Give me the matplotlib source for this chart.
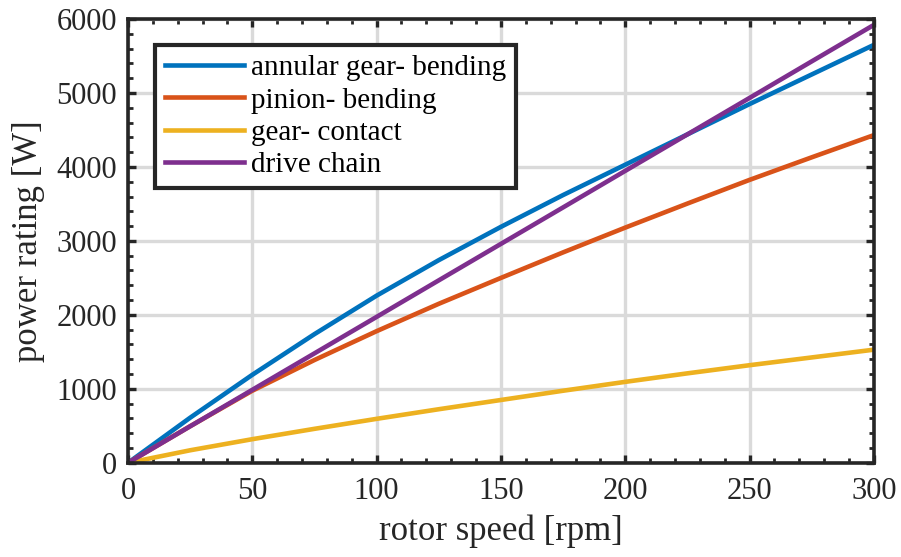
import matplotlib
matplotlib.use("Agg")
import matplotlib.pyplot as plt
from matplotlib.ticker import MultipleLocator

rpm = [0, 25, 50, 75, 100, 125, 150, 175, 200, 225, 250, 275, 300]
annular_bending = [0, 610, 1190, 1740, 2260, 2740, 3190, 3620, 4030, 4440, 4850, 5250, 5650]
pinion_bending = [0, 495, 975, 1390, 1780, 2150, 2500, 2845, 3180, 3505, 3825, 4130, 4430]
gear_contact = [0, 170, 320, 460, 595, 725, 850, 975, 1095, 1210, 1320, 1425, 1530]
drive_chain = [0, 494, 987, 1480, 1973, 2467, 2960, 3453, 3947, 4440, 4933, 5427, 5920]

labels = ["annular gear- bending", "pinion- bending", "gear- contact", "drive chain"]
colors = ["#0072BD", "#D95319", "#EDB120", "#7E2F8E"]

plt.rcParams["font.family"] = ["Liberation Serif", "DejaVu Serif"]

fig = plt.figure(figsize=(9.01, 5.57), dpi=100)
ax = fig.add_axes([0.142, 0.169, 0.828, 0.797])

for ys, lab, c in zip([annular_bending, pinion_bending, gear_contact, drive_chain], labels, colors):
    ax.plot(rpm, ys, color=c, lw=3.3, label=lab)

ax.set_xlim(0, 300)
ax.set_ylim(0, 6000)
ax.xaxis.set_major_locator(MultipleLocator(50))
ax.xaxis.set_minor_locator(MultipleLocator(10))
ax.yaxis.set_major_locator(MultipleLocator(1000))
ax.yaxis.set_minor_locator(MultipleLocator(200))
ax.grid(True, which="major", color="#dadada", lw=2.4)
ax.set_axisbelow(True)

for s in ax.spines.values():
    s.set_linewidth(2.6)
    s.set_color("#262626")
ax.tick_params(which="both", direction="in", top=True, right=True, color="#262626",
               labelsize=22, labelcolor="#262626")
ax.tick_params(axis="x", pad=10)
ax.tick_params(axis="y", pad=8)
ax.tick_params(which="major", length=6, width=2.4)
ax.tick_params(which="minor", length=3.5, width=2.0)

ax.set_xlabel("rotor speed [rpm]", fontsize=25, color="#262626", labelpad=6)
ax.set_ylabel("power rating [W]", fontsize=25, color="#262626", labelpad=8)

leg = ax.legend(loc="upper left", bbox_to_anchor=(0.036, 0.942), fontsize=21,
                frameon=True, fancybox=False, handlelength=2.7, handletextpad=0.25,
                borderpad=0.35, labelspacing=0.2, borderaxespad=0)
leg.get_frame().set_edgecolor("#262626")
leg.get_frame().set_linewidth(3)
leg.get_frame().set_alpha(1)

fig.savefig("out.png", dpi=100)
